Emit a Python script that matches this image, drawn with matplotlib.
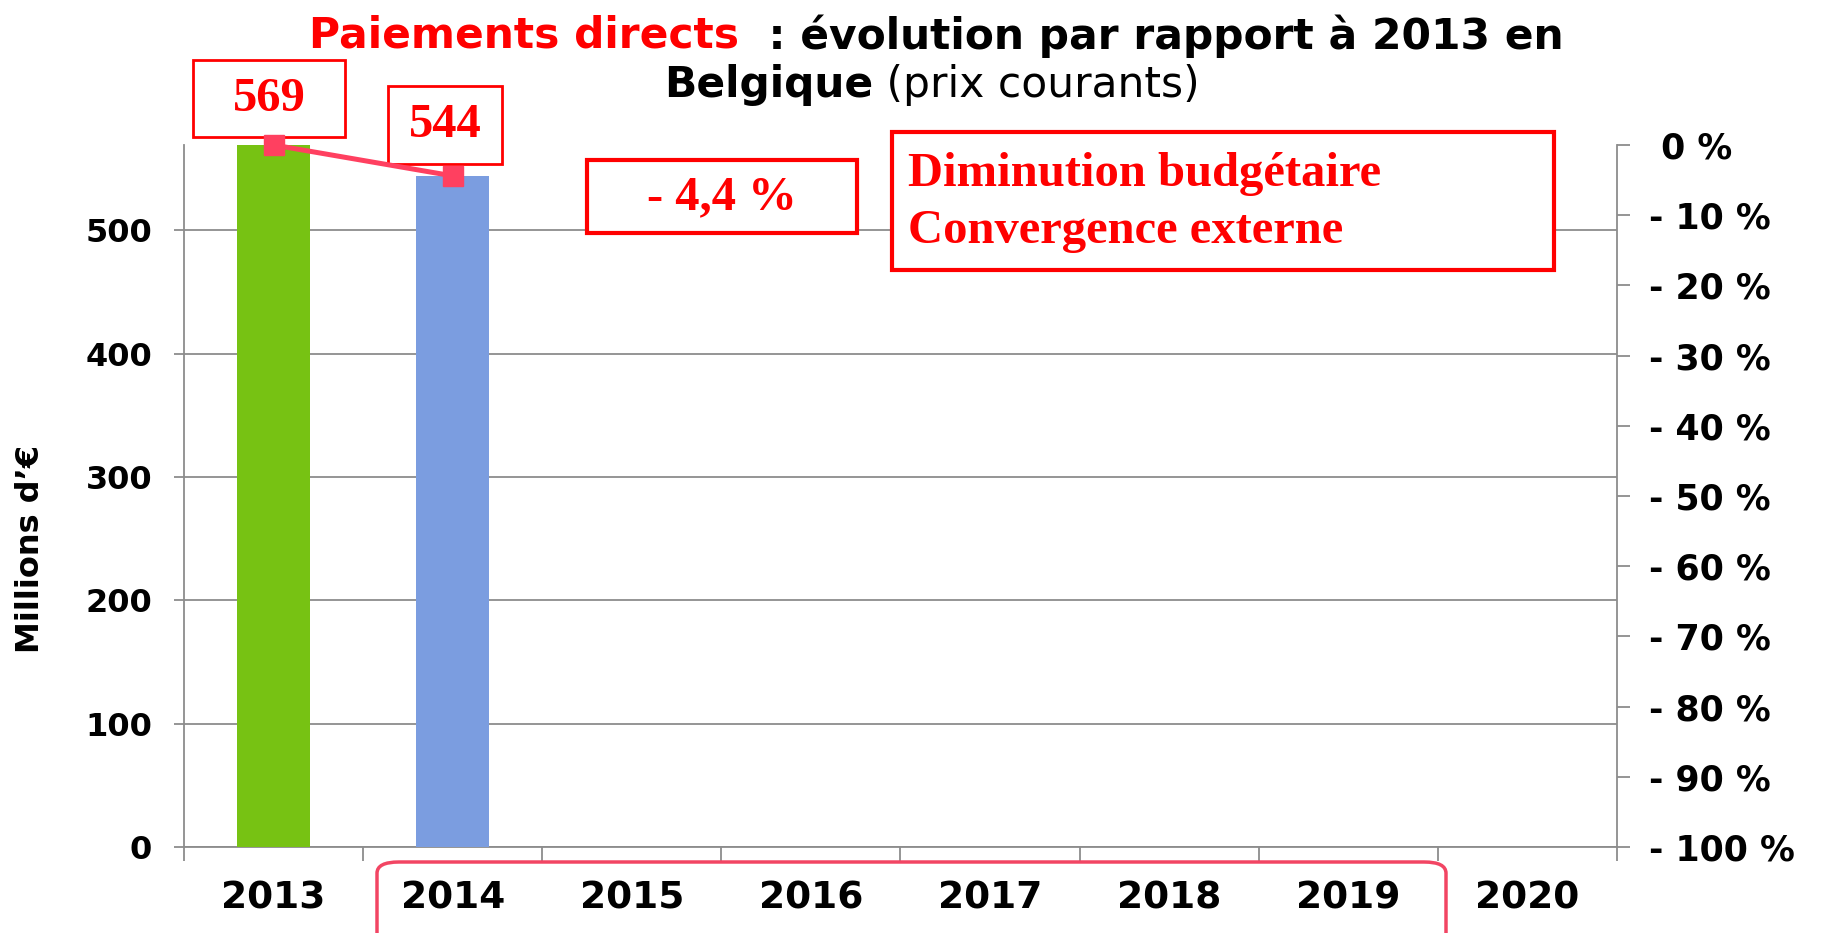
import matplotlib.pyplot as plt
from matplotlib.patches import Rectangle, FancyBboxPatch
import numpy as np

# data
years = ['2013', '2014', '2015', '2016', '2017', '2018', '2019', '2020']
paiements = [569, 544]          # millions d'euros
evolution = [0.0, -4.4]         # % par rapport a 2013
bar_colors = ['#77C213', '#7B9DE0']
pct_ticks = list(range(0, -101, -10))
pct_labels = [' 0 %'] + ['- %d %%' % -p for p in pct_ticks[1:]]

W, H = 1824, 933
fig = plt.figure(figsize=(W / 100, H / 100), dpi=100)

def fx(px):
    return px / W

def fy(py):
    return 1 - py / H

ax = fig.add_axes([fx(184), fy(847), fx(1617) - fx(184), fy(145) - fy(847)])
x = np.arange(len(years))
ax.bar(x[:len(paiements)], paiements, width=0.41, color=bar_colors, zorder=3)
ax.set_xlim(-0.5, len(years) - 0.5)
ax.set_ylim(0, paiements[0])
ax.set_yticks([0, 100, 200, 300, 400, 500])
ax.yaxis.grid(True, color='#8C8C8C', lw=1.3, zorder=0)
for s in ['top', 'right']:
    ax.spines[s].set_visible(False)
for s in ['left', 'bottom']:
    ax.spines[s].set_color('#8C8C8C')
    ax.spines[s].set_linewidth(1.3)
ax.tick_params(axis='y', length=7, width=1.3, color='#8C8C8C', pad=16)
ax.set_xticks(x)
ax.set_xticklabels(years)
ax.set_xticks(np.arange(-0.5, len(years)), minor=True)
ax.tick_params(axis='x', which='major', length=0, pad=24)
ax.tick_params(axis='x', which='minor', length=10, width=1.3, color='#8C8C8C')
for lab in ax.get_yticklabels():
    lab.set_fontsize(23)
    lab.set_fontweight('bold')
for lab in ax.get_xticklabels():
    lab.set_fontsize(27)
    lab.set_fontweight('bold')
fig.text(fx(31), fy(549), 'Millions d\u2019\u20ac', rotation=90, ha='center', va='center',
         fontsize=23, fontweight='bold')

ax2 = ax.twinx()
ax2.plot(x[:len(evolution)], evolution, color='#FF4060', lw=3.6, marker='s',
         markersize=14.5, zorder=20, clip_on=False)
ax2.set_ylim(-100, 0)
ax2.set_yticks(pct_ticks)
ax2.set_yticklabels(pct_labels, fontsize=25, fontweight='bold')
for s in ['top', 'left', 'bottom']:
    ax2.spines[s].set_visible(False)
ax2.spines['right'].set_color('#8C8C8C')
ax2.spines['right'].set_linewidth(1.3)
ax2.tick_params(axis='y', length=9, width=1.3, color='#8C8C8C', pad=14)

# title in pieces
def centered_line(pieces, cx, y, size):
    r = fig.canvas.get_renderer()
    texts = []
    for s, c, w in pieces:
        t = fig.text(0, y, s, color=c, fontweight=w, fontsize=size, va='center')
        texts.append(t)
    widths = [t.get_window_extent(r).width for t in texts]
    total = sum(widths)
    left = cx * W - total / 2
    for t, wd in zip(texts, widths):
        t.set_x(left / W)
        left += wd

centered_line([('Paiements directs', 'red', 'bold'),
               ('  : \u00e9volution par rapport \u00e0 2013 en', 'black', 'bold')],
              fx(936), fy(36), 30.5)
centered_line([('Belgique', 'black', 'bold'), (' (prix courants)', 'black', 'normal')],
              fx(932), fy(85), 30.5)

# annotation boxes (drawn in ax2 so the line sits on top)
def box(x0, y0, x1, y1, lw=2):
    ax2.add_patch(Rectangle((fx(x0), fy(y1)), fx(x1) - fx(x0), fy(y0) - fy(y1),
                            transform=fig.transFigure, fill=True, fc='white',
                            ec='red', lw=lw, zorder=10, clip_on=False))

def label(px, py, s, ha='center'):
    ax2.text(fx(px), fy(py), s, transform=fig.transFigure, ha=ha, va='center',
             fontsize=35, family='Liberation Serif', fontweight='bold',
             color='red', zorder=11, clip_on=False)

box(193, 60, 345, 137)
label(269, 99, '%d' % paiements[0])
box(388, 86, 502, 164)
label(445, 125, '%d' % paiements[1])
box(587, 160, 857, 233, lw=3)
label(722, 197, '- 4,4 %')
box(892, 132, 1554, 270, lw=3)
label(908, 174, 'Diminution budg\u00e9taire', ha='left')
label(908, 231, 'Convergence externe', ha='left')

# rounded frame around 2014-2019
fig.patches.append(FancyBboxPatch((fx(377), fy(960)), fx(1446) - fx(377), fy(862) - fy(960),
                                  boxstyle='round,pad=0,rounding_size=0.012',
                                  transform=fig.transFigure, fill=False,
                                  ec='#F24563', lw=2.5, zorder=6))

fig.savefig('out.png', dpi=100)
